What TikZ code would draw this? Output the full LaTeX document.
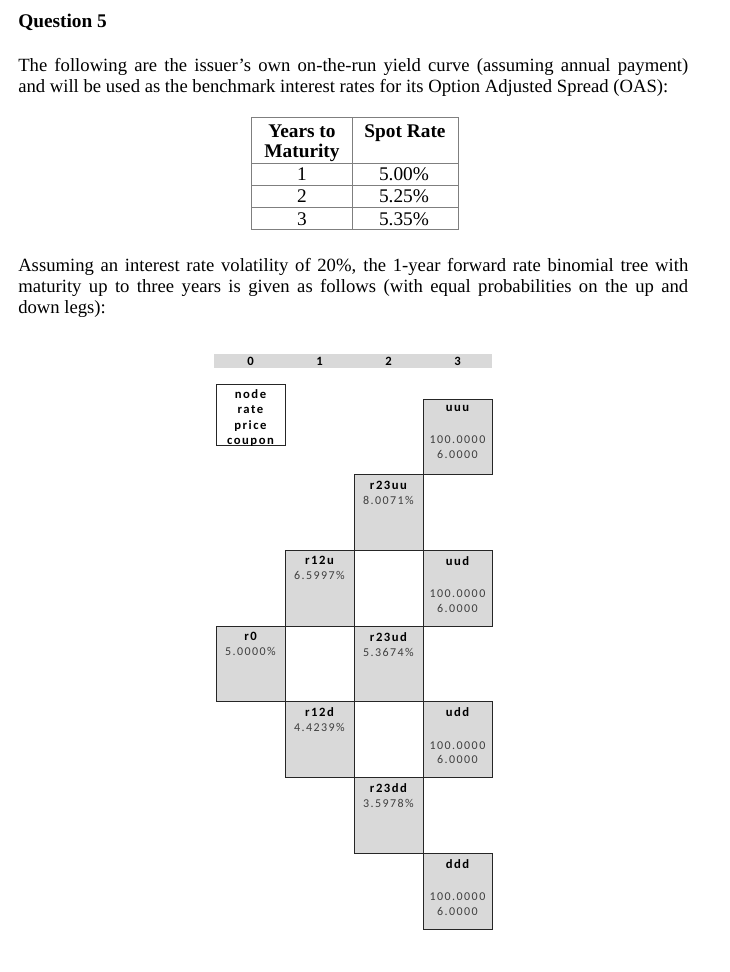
\documentclass[tikz,border=0pt]{standalone}
\usepackage{fontspec}
\setmainfont{Liberation Serif}
\newfontfamily\treefont[LetterSpace=12]{Carlito}
\usepackage{xcolor}
\usepackage{tikz}
\usetikzlibrary{positioning}
\definecolor{treeGray}{HTML}{D9D9D9}
\definecolor{treeLine}{HTML}{262626}
\definecolor{treeText}{HTML}{3F3F3F}
\definecolor{tabLine}{HTML}{7F7F7F}

\begin{document}
\begin{tikzpicture}[
  x=0.75pt, y=-0.75pt,
  body/.style={anchor=base west, inner sep=0pt, font=\fontsize{14}{15.75}\selectfont},
  headtxt/.style={anchor=base, inner sep=0pt, font=\fontsize{14.5}{15.75}\selectfont\bfseries},
  celltxt/.style={anchor=base, inner sep=0pt, font=\fontsize{14.5}{15.75}\selectfont},
  tabrule/.style={draw=tabLine, line width=0.7pt},
  cell/.style={
    draw=treeLine,
    fill=treeGray,
    line width=0.6pt,
    anchor=north west,
    inner sep=0pt,
    outer sep=0pt,
    minimum width=51.75pt,
    minimum height=56.8pt
  },
  legend/.style={cell, fill=white, minimum height=45.5pt},
  tag/.style={
    anchor=north,
    align=center,
    inner sep=0pt,
    font=\treefont\fontsize{9}{11.1}\selectfont,
    text=treeText
  },
  title/.style={text=black, font=\treefont\fontsize{9.5}{11.6}\selectfont\bfseries},
  year/.style={anchor=center, inner sep=0pt, font=\treefont\fontsize{9.5}{10}\selectfont\bfseries}
]
\useasboundingbox (0,0) rectangle (730,972);

% question text
\node[body, font=\fontsize{14.5}{15.75}\selectfont\bfseries] (qtitle) at (18,27) {Question 5};
\node[body] (pa1) at (18,71) {\makebox[502.5pt][s]{The following are the issuer's own on-the-run yield curve (assuming annual payment)}};
\node[body] (pa2) at (18,92) {and will be used as the benchmark interest rates for its Option Adjusted Spread (OAS):};

% spot rate table
\draw[tabrule] (251,117) rectangle (458,229);
\draw[tabrule] (352,117) -- (352,229);
\draw[tabrule] (251,163) -- (458,163);
\draw[tabrule] (251,185) -- (458,185);
\draw[tabrule] (251,207) -- (458,207);
\node[headtxt] (hyears) at (302,137) {Years to};
\node[headtxt] (hmat) at (302,157) {Maturity};
\node[headtxt] (hspot) at (405,137) {Spot Rate};
\node[celltxt] (m1) at (302,180) {1};
\node[celltxt] (m2) at (302,202) {2};
\node[celltxt] (m3) at (302,225) {3};
\node[celltxt] (s1) at (404,180) {5.00\%};
\node[celltxt] (s2) at (404,202) {5.25\%};
\node[celltxt] (s3) at (404,225) {5.35\%};

\node[body] (pb1) at (18,271) {\makebox[502.5pt][s]{Assuming an interest rate volatility of 20\%, the 1-year forward rate binomial tree with}};
\node[body] (pb2) at (18,292) {\makebox[502.5pt][s]{maturity up to three years is given as follows (with equal probabilities on the up and}};
\node[body] (pb3) at (18,313) {down legs):};

% year header
\fill[treeGray] (214,354) rectangle (492,368);
\foreach \t in {0,1,2,3}
  \node[year] (y\t) at (250.5+69*\t,361) {\t};

% legend
\node[legend] (key) at (216,384.5) {};
\node[tag, title, below=3.5pt of key.north] {node\\rate\\price\\coupon};

% tree cells
\node[cell] (uuu) at (423,399) {};
\node[cell] (r23uu) at (354,474.7) {};
\node[cell] (r12u) at (285,550.4) {};
\node[cell] (uud) at (423,550.4) {};
\node[cell] (r0) at (216,626.1) {};
\node[cell] (r23ud) at (354,626.1) {};
\node[cell] (r12d) at (285,701.8) {};
\node[cell] (udd) at (423,701.8) {};
\node[cell] (r23dd) at (354,777.5) {};
\node[cell] (ddd) at (423,853.2) {};

\node[tag, below=4.5pt of r0.north] {\textcolor{black}{\bfseries\fontsize{9.5}{11.1}\selectfont r0}\\5.0000\%};
\node[tag, below=4.5pt of r12u.north] {\textcolor{black}{\bfseries\fontsize{9.5}{11.1}\selectfont r12u}\\6.5997\%};
\node[tag, below=4.5pt of r12d.north] {\textcolor{black}{\bfseries\fontsize{9.5}{11.1}\selectfont r12d}\\4.4239\%};
\node[tag, below=4.5pt of r23uu.north] {\textcolor{black}{\bfseries\fontsize{9.5}{11.1}\selectfont r23uu}\\8.0071\%};
\node[tag, below=4.5pt of r23ud.north] {\textcolor{black}{\bfseries\fontsize{9.5}{11.1}\selectfont r23ud}\\5.3674\%};
\node[tag, below=4.5pt of r23dd.north] {\textcolor{black}{\bfseries\fontsize{9.5}{11.1}\selectfont r23dd}\\3.5978\%};
\node[tag, below=4.5pt of uuu.north] {\textcolor{black}{\bfseries\fontsize{9.5}{11.1}\selectfont uuu}\\[13pt]100.0000\\6.0000};
\node[tag, below=4.5pt of uud.north] {\textcolor{black}{\bfseries\fontsize{9.5}{11.1}\selectfont uud}\\[13pt]100.0000\\6.0000};
\node[tag, below=4.5pt of udd.north] {\textcolor{black}{\bfseries\fontsize{9.5}{11.1}\selectfont udd}\\[13pt]100.0000\\6.0000};
\node[tag, below=4.5pt of ddd.north] {\textcolor{black}{\bfseries\fontsize{9.5}{11.1}\selectfont ddd}\\[13pt]100.0000\\6.0000};

\end{tikzpicture}
\end{document}
